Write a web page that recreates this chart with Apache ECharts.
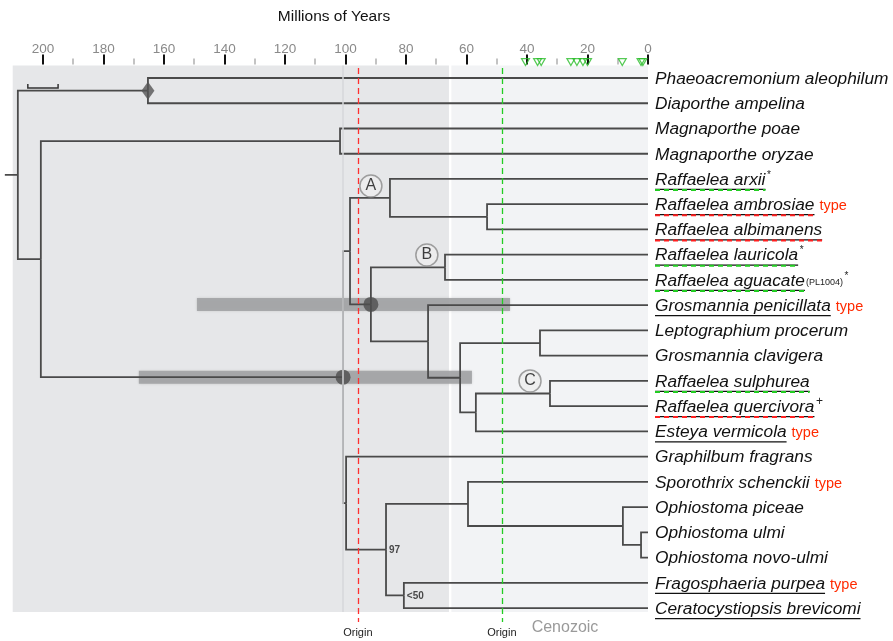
<!DOCTYPE html>
<html lang="en">
<head>
<meta charset="UTF-8">
<title>Chronogram</title>
<script src="https://cdn.jsdelivr.net/npm/echarts@6/dist/echarts.min.js"></script>
<style>html,body{margin:0;padding:0;background:#fff}#main{width:893px;height:641px}</style>
</head>
<body>
<div id="main"></div>
<script>
var FONT = '"Liberation Sans", Arial, Helvetica, sans-serif';

var taxa = [
  'Phaeoacremonium aleophilum', 'Diaporthe ampelina', 'Magnaporthe poae', 'Magnaporthe oryzae',
  'Raffaelea arxii', 'Raffaelea ambrosiae', 'Raffaelea albimanens', 'Raffaelea lauricola',
  'Raffaelea aguacate', 'Grosmannia penicillata', 'Leptographium procerum', 'Grosmannia clavigera',
  'Raffaelea sulphurea', 'Raffaelea quercivora', 'Esteya vermicola', 'Graphilbum fragrans',
  'Sporothrix schenckii', 'Ophiostoma piceae', 'Ophiostoma ulmi', 'Ophiostoma novo-ulmi',
  'Fragosphaeria purpea', 'Ceratocystiopsis brevicomi'
];
var underlined = [4, 5, 6, 7, 8, 9, 12, 13, 14, 20, 21];
var scolytinaeFarmers = [4, 7, 8, 12];
var platypodinaeFarmers = [5, 6, 13];
var typeSpecies = [5, 9, 14, 16, 20];
var supMarks = {4: '*', 7: '*', 8: '*', 13: '+'};
var subMarks = {8: '(PL1004)'};

// internal nodes: id, age (Myr), children (leaf index or node id)
var nodes = [
  ['root', 208.3, ['pd', 'n201']],
  ['pd', 165.3, [0, 1]],
  ['n201', 200.7, ['mag', 'oph']],
  ['mag', 101.8, [2, 3]],
  ['oph', 100.8, ['up', 'low']],
  ['up', 98.5, ['A', 'circ']],
  ['A', 85.3, [4, 'aa']],
  ['aa', 53.2, [5, 6]],
  ['circ', 91.6, ['B', 'gp']],
  ['B', 67.1, [7, 8]],
  ['gp', 72.7, [9, 'lg2']],
  ['lg2', 62.1, ['lg', 're']],
  ['lg', 35.7, [10, 11]],
  ['re', 56.9, ['C', 14]],
  ['C', 32.4, [12, 13]],
  ['low', 99.8, [15, 'b97']],
  ['b97', 86.6, ['sp', 'b50']],
  ['sp', 59.5, [16, 'pic']],
  ['pic', 8.3, [17, 'ulm']],
  ['ulm', 2.3, [18, 19]],
  ['b50', 80.7, [20, 21]]
];
var rootStub = 212.6;
var fossilNodes = ['pd'];
var constrainedNodes = ['oph', 'circ'];
var intervals = [['circ', 149.1, 45.6], ['oph', 168.3, 58.2]];
var support = [['b97', '97'], ['b50', '<50']];
var cladeLetters = [['A', 91.6, 4.28], ['B', 73.1, 7.01], ['C', 39.0, 12.0]];
var platypodinaeOrigin = 95.9;
var scolytinaeOrigin = 48.3;
var scolytinaeEvents = [40.5, 36.5, 35.3, 25.5, 23.5, 21.5, 20.0, 8.5, 2.3, 1.7];
var majorTicks = [0, 20, 40, 60, 80, 100, 120, 140, 160, 180, 200];
var minorTicks = [10, 30, 50, 70, 90, 110, 130, 150, 170, 190];
var treeStart = 210;
var cenozoicStart = 65.3;
var faintLine = 100.8;
var scaleBar = [205, 10];

var byId = {};
nodes.forEach(function (n) { byId[n[0]] = n; });
function nodeY(c) {
  if (typeof c === 'number') return c;
  var k = byId[c][2];
  return (nodeY(k[0]) + nodeY(k[k.length - 1])) / 2;
}
function nodeAge(c) { return typeof c === 'number' ? 0 : byId[c][1]; }

var branches = [];
nodes.forEach(function (n) {
  var y = nodeY(n[0]);
  n[2].forEach(function (c) {
    var cy = nodeY(c);
    branches.push({coords: [[n[1], y], [n[1], cy], [nodeAge(c), cy]]});
  });
});
branches.push({coords: [[rootStub, nodeY('root')], [byId.root[1], nodeY('root')]]});
var sb = {coords: [[scaleBar[0], 0.24], [scaleBar[0], 0.4], [scaleBar[0] - scaleBar[1], 0.4], [scaleBar[0] - scaleBar[1], 0.24]]};

var ctx = document.createElement('canvas').getContext('2d');
function textWidth(t, font) { ctx.font = font; return ctx.measureText(t).width; }

function timeAxis(ticks, len, color, width) {
  return {
    type: 'value', position: 'top', inverse: true, min: 0, max: 214.2, offset: 1,
    axisLine: {show: false, onZero: false}, splitLine: {show: false},
    axisTick: ticks ? {customValues: ticks, length: len, lineStyle: {color: color, width: width}} : {show: false},
    axisLabel: {show: false}
  };
}
var labelAxis = timeAxis(null);
labelAxis.axisLabel = {show: true, customValues: majorTicks, color: '#8a8a8a', fontSize: 13.5, fontFamily: FONT, margin: 8};

var chart = echarts.init(document.getElementById('main'));
var option = {
  animation: false,
  grid: {left: 0, width: 648, top: 65.4, height: 560.3},
  xAxis: [
    timeAxis(majorTicks, 10, '#111', 2),
    timeAxis(minorTicks, 6, '#b0b0b0', 1.5),
    labelAxis
  ],
  yAxis: {type: 'value', inverse: true, min: -0.5, max: 21.7, show: false, axisLine: {onZero: false}},
  graphic: [
    {type: 'text', x: 334, y: 17, style: {text: 'Millions of Years', fontSize: 15.5, fontFamily: FONT, fill: '#111', align: 'center', verticalAlign: 'middle'}},
    {type: 'text', x: 565, y: 628, style: {text: 'Cenozoic', fontSize: 16, fontFamily: FONT, fill: '#9a9a9a', align: 'center', verticalAlign: 'middle'}},
    {type: 'polygon', shape: {points: [[50, 441], [56.5, 448], [50, 455], [43.5, 448]]}, style: {fill: '#555'}},
    {type: 'circle', shape: {cx: 50, cy: 475, r: 7.5}, style: {fill: '#555'}},
    {type: 'rect', shape: {x: 44, y: 495, width: 13, height: 13}, style: {fill: '#a9aaac'}},
    {type: 'rect', shape: {x: 45, y: 523, width: 3, height: 7}, style: {fill: '#ff2020'}},
    {type: 'rect', shape: {x: 50.5, y: 523, width: 3, height: 7}, style: {fill: '#ff2020'}},
    {type: 'rect', shape: {x: 56, y: 523, width: 3, height: 7}, style: {fill: '#ff2020'}},
    {type: 'rect', shape: {x: 45, y: 544, width: 3, height: 7}, style: {fill: '#22cc22'}},
    {type: 'rect', shape: {x: 50.5, y: 544, width: 3, height: 7}, style: {fill: '#22cc22'}},
    {type: 'rect', shape: {x: 56, y: 544, width: 3, height: 7}, style: {fill: '#22cc22'}},
    {type: 'text', x: 44, y: 570, style: {text: '*/+', fontSize: 12, fontFamily: FONT, fill: '#222', verticalAlign: 'middle'}},
    {type: 'text', x: 71, y: 448, style: {text: 'Fossil constraint', fontSize: 15, fontFamily: FONT, fill: '#222', verticalAlign: 'middle'}},
    {type: 'text', x: 71, y: 475, style: {text: 'Constrained node', fontSize: 15, fontFamily: FONT, fill: '#222', verticalAlign: 'middle'}},
    {type: 'text', x: 71, y: 502, style: {text: 'Constraint interval', fontSize: 15, fontFamily: FONT, fill: '#222', verticalAlign: 'middle'}},
    {type: 'text', x: 71, y: 526, style: {text: 'Platypodinae farming', fontSize: 15, fontFamily: FONT, fill: '#222', verticalAlign: 'middle'}},
    {type: 'text', x: 71, y: 548, style: {text: 'Scolytinae farming', fontSize: 15, fontFamily: FONT, fill: '#222', verticalAlign: 'middle'}},
    {type: 'text', x: 71, y: 570, style: {text: 'Origin asynchrony', fontSize: 15, fontFamily: FONT, fill: '#222', verticalAlign: 'middle'}}
  ],
  series: [
    {
      name: 'periods', type: 'line', data: [], z: 0, silent: true,
      markArea: {
        silent: true,
        data: [
          [{xAxis: treeStart, yAxis: -0.5, itemStyle: {color: '#e6e7e9'}}, {xAxis: cenozoicStart + 0.5, yAxis: 21.16}],
          [{xAxis: cenozoicStart - 0.3, yAxis: -0.5, itemStyle: {color: '#f2f3f5'}}, {xAxis: 0, yAxis: 21.16}]
        ]
      },
      markLine: {
        silent: true, symbol: 'none', label: {show: false},
        data: [[{coord: [faintLine, -0.5]}, {coord: [faintLine, 21.16]}]],
        lineStyle: {color: '#d6d7da', width: 1.5, type: 'solid'}
      }
    },
    {
      name: 'Constraint interval', type: 'lines', coordinateSystem: 'cartesian2d', polyline: true, z: 1, silent: true,
      data: intervals.map(function (iv) { var y = nodeY(iv[0]); return {coords: [[iv[1], y], [iv[2], y]]}; }),
      lineStyle: {color: '#a3a4a6', width: 13, opacity: 0.92, cap: 'butt', shadowBlur: 3, shadowColor: 'rgba(0,0,0,0.2)'}
    },
    {
      name: 'tree', type: 'lines', coordinateSystem: 'cartesian2d', polyline: true, z: 2, silent: true,
      data: branches,
      lineStyle: {color: '#4a4a4a', width: 1.8, opacity: 1}
    },
    {
      name: 'scalebar', type: 'lines', coordinateSystem: 'cartesian2d', polyline: true, z: 2, silent: true,
      data: [sb], lineStyle: {color: '#333', width: 1.5, opacity: 1}
    },
    {
      name: 'origins', type: 'line', data: [], z: 3, silent: true,
      markLine: {
        silent: true, symbol: 'none',
        label: {show: true, position: 'end', formatter: 'Origin', fontSize: 11, fontFamily: FONT, color: '#222', distance: 6},
        data: [
          [{coord: [platypodinaeOrigin, -0.4], lineStyle: {color: '#ff3030'}}, {coord: [platypodinaeOrigin, 21.55]}],
          [{coord: [scolytinaeOrigin, -0.4], lineStyle: {color: '#22cc22'}}, {coord: [scolytinaeOrigin, 21.55]}]
        ],
        lineStyle: {type: [6, 4], width: 1.3}
      }
    },
    {
      name: 'Fossil constraint', type: 'scatter', z: 4, silent: true,
      data: fossilNodes.map(function (id) { return [byId[id][1], nodeY(id)]; }),
      symbol: 'diamond', symbolSize: [13, 18], itemStyle: {color: '#555'}
    },
    {
      name: 'Constrained node', type: 'scatter', z: 4, silent: true,
      data: constrainedNodes.map(function (id) { return [byId[id][1], nodeY(id)]; }),
      symbol: 'circle', symbolSize: 15, itemStyle: {color: '#4d4d4d'}
    },
    {
      name: 'support', type: 'scatter', z: 4, silent: true, symbolSize: 0,
      data: support.map(function (s) { return {value: [byId[s[0]][1], nodeY(s[0])], label: {formatter: s[1]}}; }),
      label: {show: true, position: 'right', distance: 3, fontSize: 10, fontWeight: 'bold', fontFamily: FONT, color: '#222', offset: [0, 1]}
    },
    {
      name: 'clades', type: 'scatter', z: 4, silent: true,
      data: cladeLetters.map(function (c) { return {value: [c[1], c[2]], label: {formatter: c[0]}}; }),
      symbol: 'circle', symbolSize: 22,
      itemStyle: {color: '#eeeeee', borderColor: '#8a8a8a', borderWidth: 1.5},
      label: {show: true, position: 'inside', fontSize: 16, fontFamily: FONT, color: '#111'}
    },
    {
      name: 'Scolytinae events', type: 'scatter', z: 5, silent: true, clip: false,
      data: scolytinaeEvents.map(function (v) { return [v, -0.63]; }),
      symbol: 'triangle', symbolRotate: 180, symbolSize: [8, 7],
      itemStyle: {color: 'rgba(0,0,0,0)', borderColor: '#2bbd2b', borderWidth: 1.2}
    },
    {
      name: 'taxa', type: 'custom', z: 5, silent: true, clip: false,
      data: taxa.map(function (t, i) { return [0, i]; }),
      encode: {x: 0, y: 1},
      renderItem: function (params, api) {
        var i = params.dataIndex;
        var p = api.coord([0, i]);
        var x = p[0] + 7, y = p[1] + 1;
        var nameFont = 'italic 17.3px ' + FONT;
        var w = textWidth(taxa[i], nameFont);
        var kids = [];
        if (underlined.indexOf(i) >= 0) {
          kids.push({type: 'line', shape: {x1: x, y1: y + 9.5, x2: x + w, y2: y + 9.5}, style: {stroke: '#111', lineWidth: 1.3}});
        }
        var farm = scolytinaeFarmers.indexOf(i) >= 0 ? '#22cc22' : (platypodinaeFarmers.indexOf(i) >= 0 ? '#ff2020' : null);
        if (farm) {
          kids.push({type: 'line', shape: {x1: x, y1: y + 10, x2: x + w, y2: y + 10}, style: {stroke: farm, lineWidth: 2, lineDash: [5, 4]}});
        }
        kids.push({type: 'text', style: {x: x, y: y, text: taxa[i], font: nameFont, fill: '#111', verticalAlign: 'middle'}});
        var cx = x + w;
        if (subMarks[i]) {
          var sf = '9px ' + FONT;
          kids.push({type: 'text', style: {x: cx + 1, y: y + 6.5, text: subMarks[i], font: sf, fill: '#222', verticalAlign: 'bottom'}});
          cx += 1 + textWidth(subMarks[i], sf);
        }
        if (supMarks[i]) {
          kids.push({type: 'text', style: {x: cx + 1.5, y: y - 5, text: supMarks[i], font: (supMarks[i] === '+' ? '12px ' : '10px ') + FONT, fill: '#222', verticalAlign: 'middle'}});
        }
        if (typeSpecies.indexOf(i) >= 0) {
          kids.push({type: 'text', style: {x: x + w + 5, y: y + 1, text: 'type', font: '14.5px ' + FONT, fill: '#ff2a00', verticalAlign: 'middle'}});
        }
        return {type: 'group', children: kids};
      }
    }
  ]
};
chart.setOption(option);
</script>
</body>
</html>
